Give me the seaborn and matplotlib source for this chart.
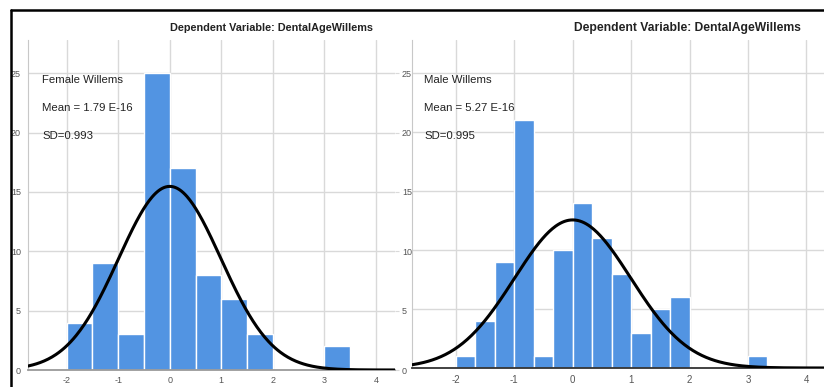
import numpy as np
import pandas as pd
import matplotlib
matplotlib.use("Agg")
import matplotlib.pyplot as plt
import seaborn as sns

# histogram bins
female_edges = [-2.0, -1.5, -1.0, -0.5, 0.0, 0.5, 1.0, 1.5, 2.0, 2.5, 3.0, 3.5]
female_counts = [4, 9, 3, 25, 17, 8, 6, 3, 0, 0, 2]
female_mean = 1.79e-16
female_sd = 0.993

male_edges = [-2.0, -1.667, -1.333, -1.0, -0.667, -0.333, 0.0, 0.333, 0.667,
              1.0, 1.333, 1.667, 2.0, 2.333, 2.667, 3.0, 3.333]
male_counts = [1, 4, 9, 21, 1, 10, 14, 11, 8, 3, 5, 6, 0, 0, 0, 1]
male_mean = 5.27e-16
male_sd = 0.995

x_ticks = [-2, -1, 0, 1, 2, 3, 4]
x_tick_labels = ["-2", "-1", "0", "1", "2", "3", "4"]
y_ticks = [0, 5, 10, 15, 20, 25]
y_tick_labels = ["0", "5", "10", "15", "20", "25"]

title = "Dependent Variable: DentalAgeWillems"
female_text = ["Female Willems", "Mean = 1.79 E-16", "SD=0.993"]
male_text = ["Male Willems", "Mean = 5.27 E-16", "SD=0.995"]

BLUE = "#5294e2"
GRID = "#d9d9d9"
FONTS = ["Liberation Sans", "DejaVu Sans"]

sns.set_style("white")
plt.rcParams["font.family"] = FONTS

W, H = 824, 387
fig = plt.figure(figsize=(W / 100, H / 100), dpi=100)


def px(x0, y0, x1, y1):
    # pixel box -> figure fraction rect
    return [x0 / W, 1 - y1 / H, (x1 - x0) / W, (y1 - y0) / H]


def draw_panel(ax, edges, counts, mean, sd, xlim, base_color):
    df = pd.DataFrame({
        "center": [(a + b) / 2 for a, b in zip(edges[:-1], edges[1:])],
        "count": counts,
    })
    sns.histplot(data=df, x="center", weights="count", bins=edges, ax=ax,
                 color=BLUE, edgecolor="white", linewidth=1.0, alpha=1, zorder=2)

    n = sum(counts)
    bw = edges[1] - edges[0]
    xs = np.linspace(xlim[0] - 0.1, xlim[1] + 0.3, 400)
    curve = pd.DataFrame({
        "x": xs,
        "y": n * bw / (sd * np.sqrt(2 * np.pi)) * np.exp(-0.5 * ((xs - mean) / sd) ** 2),
    })
    sns.lineplot(data=curve, x="x", y="y", ax=ax, color="black", linewidth=2.2, zorder=3)

    ax.set_xlim(*xlim)
    ax.set_ylim(0, 27.8)
    ax.set_xticks(x_ticks)
    ax.set_yticks(y_ticks)
    ax.set_xlabel("")
    ax.set_ylabel("")
    ax.grid(True, color=GRID, linewidth=1, zorder=0)
    ax.set_axisbelow(True)
    for s in ["top", "right"]:
        ax.spines[s].set_visible(False)
    ax.spines["left"].set_color("#c8c8c8")
    ax.spines["bottom"].set_color(base_color)
    ax.spines["bottom"].set_linewidth(1.3)


# left panel
ax1 = fig.add_axes(px(28, 40, 395, 370))
draw_panel(ax1, female_edges, female_counts, female_mean, female_sd, (-2.75, 4.37), "#9a9a9a")
ax1.set_xticklabels(x_tick_labels, fontsize=6.5, color="#555555")
ax1.set_yticklabels(y_tick_labels, fontsize=6.5, color="#555555")
ax1.tick_params(axis="y", left=False, right=True, labelright=True, length=3,
                color=GRID, pad=2)
ax1.tick_params(axis="y", which="both", labelleft=True, pad=2)
ax1.tick_params(axis="x", length=0, pad=4)
for i, t in enumerate(female_text):
    ax1.text(42 / W, 1 - (80 + 28 * i) / H, t, transform=fig.transFigure,
             fontsize=8.2, color="#222222", va="center")

# right panel
ax2 = fig.add_axes(px(412, 40, 824, 368))
draw_panel(ax2, male_edges, male_counts, male_mean, male_sd, (-2.75, 4.3), "#333333")
ax2.set_xticklabels(x_tick_labels, fontsize=7, color="#555555")
ax2.set_yticklabels([])
ax2.tick_params(axis="y", length=0)
ax2.tick_params(axis="x", length=0, pad=5)
for i, t in enumerate(male_text):
    ax2.text(424 / W, 1 - (80 + 28 * i) / H, t, transform=fig.transFigure,
             fontsize=8.2, color="#222222", va="center")

# titles
fig.text(271 / W, 1 - 28 / H, title, fontsize=7.8, fontweight="bold",
         ha="center", va="center", color="#222222")
fig.text(687 / W, 1 - 28 / H, title, fontsize=8.7, fontweight="bold",
         ha="center", va="center", color="#222222")

# outer frame (top and left edges)
fig.add_artist(plt.Line2D([11 / W, 11 / W], [0, 1 - 10 / H], color="black",
                          linewidth=1.8, transform=fig.transFigure))
fig.add_artist(plt.Line2D([11 / W, 1], [1 - 10 / H, 1 - 10 / H], color="black",
                          linewidth=1.8, transform=fig.transFigure))

fig.savefig("out.png", dpi=100)
